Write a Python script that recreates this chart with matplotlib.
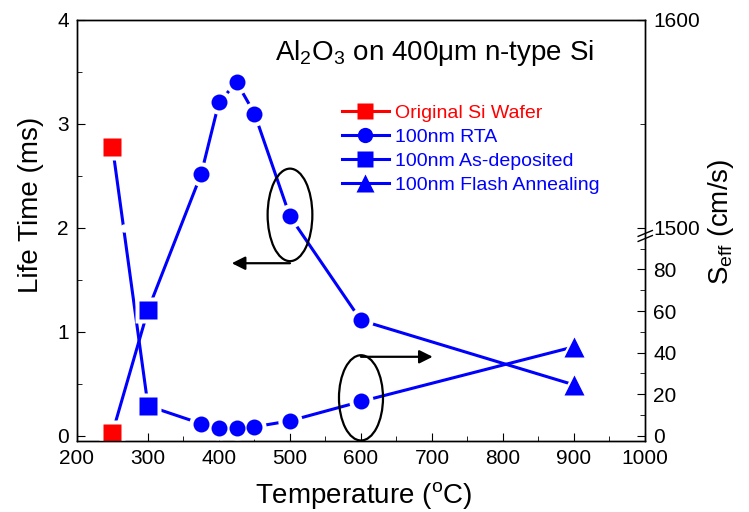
import numpy as np
import matplotlib
matplotlib.use("Agg")
import matplotlib.pyplot as plt
from matplotlib.patches import Ellipse
from matplotlib.lines import Line2D

plt.rcParams['font.family'] = ['Liberation Sans', 'DejaVu Sans']
plt.rcParams['mathtext.fontset'] = 'custom'
plt.rcParams['mathtext.rm'] = 'Liberation Sans'
plt.rcParams['mathtext.it'] = 'Liberation Sans'

# data
orig_temp = [250]
orig_life = [0.03]        # ms
orig_seff = [1539]        # cm/s

asdep_temp = [300]
asdep_life = [1.21]
asdep_seff = [14.4]

rta_temp = [375, 400, 425, 450, 500, 600]
rta_life = [2.52, 3.21, 3.40, 3.10, 2.11, 1.11]
rta_seff = [5.8, 3.8, 3.8, 4.3, 7.2, 16.5]

flash_temp = [900]
flash_life = [0.49]
flash_seff = [42.8]

seff_ticks = [0, 20, 40, 60, 80, 1500, 1600]
seff_minor = [10, 30, 50, 70, 90, 1550]


def seff_to_y(s):
    # broken right axis: 0-100 cm/s -> 0-2, 1500-1600 cm/s -> 2-4
    s = np.asarray(s, dtype=float)
    return np.where(s <= 100, s / 50.0, 2 + (s - 1500) / 50.0)


blue = '#0000ff'
red = '#ff0000'

fig = plt.figure(figsize=(7.49, 5.12), dpi=100)
ax = fig.add_axes([0.1028, 0.1387, 0.7583, 0.8223])
ax2 = ax.twinx()

# connecting lines
life_x = orig_temp + asdep_temp + rta_temp + flash_temp
life_y = orig_life + asdep_life + rta_life + flash_life
seff_y = seff_to_y(orig_seff + asdep_seff + rta_seff + flash_seff)
ax.plot(life_x, life_y, color=blue, lw=2.2, zorder=2)
ax.plot(life_x, seff_y, color=blue, lw=2.2, zorder=2)

# gap where the S_eff line crosses the axis break
xb = np.interp(2.0, [seff_y[1], seff_y[0]], [life_x[1], life_x[0]])
ax.plot([xb], [2.0], 'o', color='white', ms=6, mec='none', zorder=3)

groups = [
    (orig_temp, orig_life, orig_seff, 's', red, 12.5),
    (asdep_temp, asdep_life, asdep_seff, 's', blue, 13),
    (rta_temp, rta_life, rta_seff, 'o', blue, 11.5),
    (flash_temp, flash_life, flash_seff, '^', blue, 15),
]
# white halos first, then coloured markers
for t, l, s, m, c, ms in groups:
    ax.plot(t, l, m, color='white', ms=ms + 6, mec='none', zorder=4)
    ax.plot(t, seff_to_y(s), m, color='white', ms=ms + 6, mec='none', zorder=4)
for t, l, s, m, c, ms in groups:
    ax.plot(t, l, m, color=c, ms=ms, mec='none', zorder=5)
    ax.plot(t, seff_to_y(s), m, color=c, ms=ms, mec='none', zorder=5)

# annotations: ellipses with arrows pointing to the axis
ax.add_patch(Ellipse((500, 2.125), 63, 0.89, fill=False, ec='black', lw=1.6, zorder=6))
ax.annotate('', xy=(418, 1.66), xytext=(500, 1.66),
            arrowprops=dict(arrowstyle='-|>', color='black', lw=1.6, mutation_scale=20,
                            shrinkA=0, shrinkB=0), zorder=6)
ax.add_patch(Ellipse((600, 0.365), 62, 0.82, fill=False, ec='black', lw=1.6, zorder=6))
ax.annotate('', xy=(701, 0.76), xytext=(600, 0.76),
            arrowprops=dict(arrowstyle='-|>', color='black', lw=1.6, mutation_scale=20,
                            shrinkA=0, shrinkB=0), zorder=6)

# axes
ax.set_xlim(200, 1000)
ax.set_ylim(-0.05, 4)
ax2.set_ylim(-0.05, 4)
ax.set_xticks(np.arange(200, 1001, 100))
ax.set_xticks(np.arange(250, 1000, 100), minor=True)
ax.set_yticks([0, 1, 2, 3, 4])
ax.set_yticks([0.5, 1.5, 2.5, 3.5], minor=True)
ax2.set_yticks(seff_to_y(seff_ticks))
ax2.set_yticklabels([str(v) for v in seff_ticks])
ax2.set_yticks(seff_to_y(seff_minor), minor=True)

ax.tick_params(which='both', direction='in', labelsize=15, top=False, right=False, pad=6)
ax.tick_params(which='major', length=6)
ax.tick_params(which='minor', length=3.5)
ax2.tick_params(which='both', direction='in', labelsize=15, pad=6)
ax2.tick_params(which='major', length=6)
ax2.tick_params(which='minor', length=3.5)
for sp in list(ax.spines.values()) + list(ax2.spines.values()):
    sp.set_linewidth(1.0)

ax.set_xlabel('Temperature ($^{\\rm o}$C)', fontsize=20)
ax.set_ylabel('Life Time (ms)', fontsize=20)
ax2.set_ylabel('S$_{\\rm eff}$ (cm/s)', fontsize=20)
ax.xaxis.set_label_coords(0.505, -0.092)
ax.yaxis.set_label_coords(-0.058, 0.56)
ax2.yaxis.set_label_coords(1.108, 0.52)

# break mark on the right spine
for dy in (-0.012, 0.0):
    ax2.plot([0.988, 1.013], [0.486 + dy, 0.500 + dy], transform=ax2.transAxes,
             color='black', lw=1.0, clip_on=False, zorder=7)

ax.text(0.349, 0.905, 'Al$_2$O$_3$ on 400\u03bcm n-type Si', transform=ax.transAxes,
        fontsize=20, va='baseline', ha='left')

handles = [
    Line2D([], [], color=red, marker='s', ms=11, lw=2.2, mec='none'),
    Line2D([], [], color=blue, marker='o', ms=11, lw=2.2, mec='none'),
    Line2D([], [], color=blue, marker='s', ms=11, lw=2.2, mec='none'),
    Line2D([], [], color=blue, marker='^', ms=13, lw=2.2, mec='none'),
]
labels = ['Original Si Wafer', '100nm RTA', '100nm As-deposited', '100nm Flash Annealing']
leg = ax2.legend(handles, labels, loc='upper left', bbox_to_anchor=(0.4665, 0.80),
                 frameon=False, fontsize=14, handlelength=2.4, handletextpad=0.35,
                 labelspacing=0.33, borderpad=0, borderaxespad=0, labelcolor='linecolor')

fig.savefig('out.png', dpi=100)
